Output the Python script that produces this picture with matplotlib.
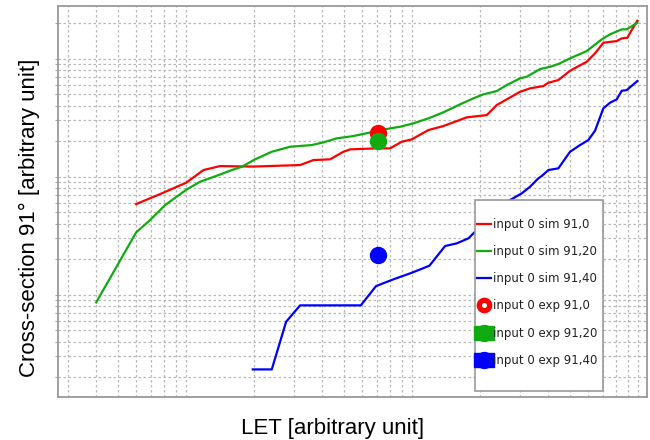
import numpy as np
import matplotlib.pyplot as plt
from matplotlib.lines import Line2D
from matplotlib.patches import Rectangle
from matplotlib.legend_handler import HandlerTuple
from matplotlib.ticker import LogLocator, NullFormatter, NullLocator

# --- simulated cross-section vs LET, tilt 91 deg, three settings ---
let_sim0 = [0.601, 0.767, 1.0, 1.193, 1.414, 1.979, 3.195, 3.659, 4.336, 4.966,
            5.317, 6.98, 7.99, 9.00, 9.97, 11.81, 13.75, 17.46, 21.41, 23.70,
            30.06, 33.28, 38.11, 40.11, 44.41, 50.02, 59.29, 64.52, 70.23, 80.51,
            84.71, 89.67, 93.78, 99.29]
xs_sim0 = [5.87, 7.13, 8.90, 11.40, 12.32, 12.20, 12.57, 13.85, 14.05, 16.29,
           17.07, 17.41, 17.41, 19.80, 20.75, 24.88, 26.90, 31.87, 33.34, 40.52,
           52.52, 56.14, 58.70, 62.60, 66.00, 79.13, 94.33, 111.1, 136.6, 141.3,
           148.9, 150.7, 175.1, 209.9]

let_sim20 = [0.40, 0.601, 0.693, 0.807, 1.007, 1.153, 1.367, 1.593, 1.764, 2.020,
             2.394, 2.885, 3.599, 4.051, 4.644, 5.499, 6.98, 7.99, 8.85, 10.13,
             11.81, 13.75, 16.31, 18.67, 20.68, 23.70, 26.24, 30.06, 32.17, 36.85,
             40.79, 44.41, 50.02, 59.29, 69.09, 75.16, 84.71, 89.13, 99.29]
xs_sim20 = [0.862, 3.38, 4.30, 5.75, 7.82, 9.07, 10.20, 11.40, 12.15, 14.05,
            16.29, 17.96, 18.56, 19.56, 21.16, 22.13, 24.39, 25.71, 26.53, 28.35,
            31.26, 35.14, 41.08, 46.17, 49.93, 53.24, 59.85, 68.22, 70.39, 81.79,
            85.54, 90.20, 100.8, 116.2, 146.0, 161.0, 177.5, 177.5, 201.9]

let_sim40 = [1.973, 2.394, 2.770, 3.195, 5.93, 6.93, 8.27, 9.97, 11.93, 14.0,
             15.77, 17.75, 19.0, 22.14, 27.14, 30.58, 33.28, 36.22, 37.49, 40.11,
             44.41, 50.02, 55.39, 60.27, 64.52, 70.23, 75.16, 80.51, 84.71, 89.13,
             99.29]
xs_sim40 = [0.233, 0.233, 0.590, 0.813, 0.813, 1.185, 1.351, 1.536, 1.761, 2.587,
            2.727, 3.006, 3.42, 4.83, 6.35, 7.23, 8.23, 9.69, 10.14, 11.40,
            11.78, 16.29, 18.56, 20.46, 24.54, 37.99, 42.38, 45.28, 53.55, 54.28,
            64.71]

# --- measured points ---
let_exp = [7.1]
xs_exp0 = [23.3]
xs_exp20 = [20.1]
xs_exp40 = [2.17]

labels = ["input 0 sim 91,0", "input 0 sim 91,20", "input 0 sim 91,40",
          "input 0 exp 91,0", "input 0 exp 91,20", "input 0 exp 91,40"]

red, green, blue = "#ff0000", "#11aa11", "#0000ff"

fig = plt.figure(figsize=(6.5, 4.4), dpi=100)
ax = fig.add_axes([58 / 650, 1 - 397 / 440, 589 / 650, 391 / 440])

ax.plot(let_sim0, xs_sim0, color=red, lw=1.6, zorder=2)
ax.plot(let_sim20, xs_sim20, color=green, lw=1.6, zorder=2)
ax.plot(let_sim40, xs_sim40, color=blue, lw=1.6, zorder=2)

ax.plot(let_exp, xs_exp0, "o", color=red, ms=11.5, zorder=3)
ax.plot(let_exp, xs_exp20, "o", color=green, ms=11.5, zorder=3)
ax.plot(let_exp, xs_exp40, "o", color=blue, ms=11.5, zorder=3)

ax.set_xscale("log")
ax.set_yscale("log")
ax.set_xlim(0.271, 109.6)
ax.set_ylim(0.136, 280)

# every 1..9 x 10^n gets a grid line, no numbers
for axis in (ax.xaxis, ax.yaxis):
    axis.set_major_locator(LogLocator(base=10, subs=np.arange(1, 10), numticks=30))
    axis.set_minor_locator(NullLocator())
    axis.set_major_formatter(NullFormatter())
ax.grid(True, color="#b8b8b8", ls=(0, (2, 2)), lw=0.9)
ax.tick_params(axis="x", length=0)
ax.tick_params(axis="y", length=2.5, color="#aaaaaa", direction="out")
for s in ax.spines.values():
    s.set_color("#999999")
    s.set_linewidth(1.3)

# legend box drawn separately so it can sit below the markers' overhang
box = Rectangle((475 / 650, 1 - 391 / 440), 128 / 650, 191 / 440,
                transform=fig.transFigure, fc="white", ec="#999999", lw=1.2, zorder=4)
ax.add_patch(box)

rect = [(-1.5, -1), (1.5, -1), (1.5, 1), (-1.5, 1), (-1.5, -1)]
handles = [
    Line2D([], [], color=red, lw=1.6),
    Line2D([], [], color=green, lw=1.6),
    Line2D([], [], color=blue, lw=1.6),
    Line2D([], [], ls="none", marker="o", ms=7.5, mfc="white", mec=red, mew=3.8),
    (Line2D([], [], ls="none", marker=rect, ms=15, color=green),
     Line2D([], [], ls="none", marker="o", ms=11.5, color=green)),
    (Line2D([], [], ls="none", marker=rect, ms=15, color=blue),
     Line2D([], [], ls="none", marker="o", ms=11.5, color=blue)),
]
leg = ax.legend(handles, labels, loc="upper left",
                bbox_to_anchor=(477 / 650, 1 - 218 / 440), bbox_transform=fig.transFigure,
                frameon=False, prop={"family": "DejaVu Sans", "size": 8.5},
                handlelength=1.2, handletextpad=0.15, borderpad=0, borderaxespad=0,
                labelspacing=1.2, handler_map={tuple: HandlerTuple(ndivide=1)})
leg.set_zorder(5)
for t in leg.get_texts():
    t.set_color("#222222")

fig.text(333 / 650, 1 - 428 / 440, "LET [arbitrary unit]", ha="center", va="center",
         fontsize=16, family="Liberation Sans")
fig.text(29 / 650, 1 - 218 / 440, "Cross-section 91\u00b0 [arbitrary unit]", ha="center",
         va="center", rotation=90, fontsize=16, family="Liberation Sans")

fig.savefig("out.png", dpi=100)
